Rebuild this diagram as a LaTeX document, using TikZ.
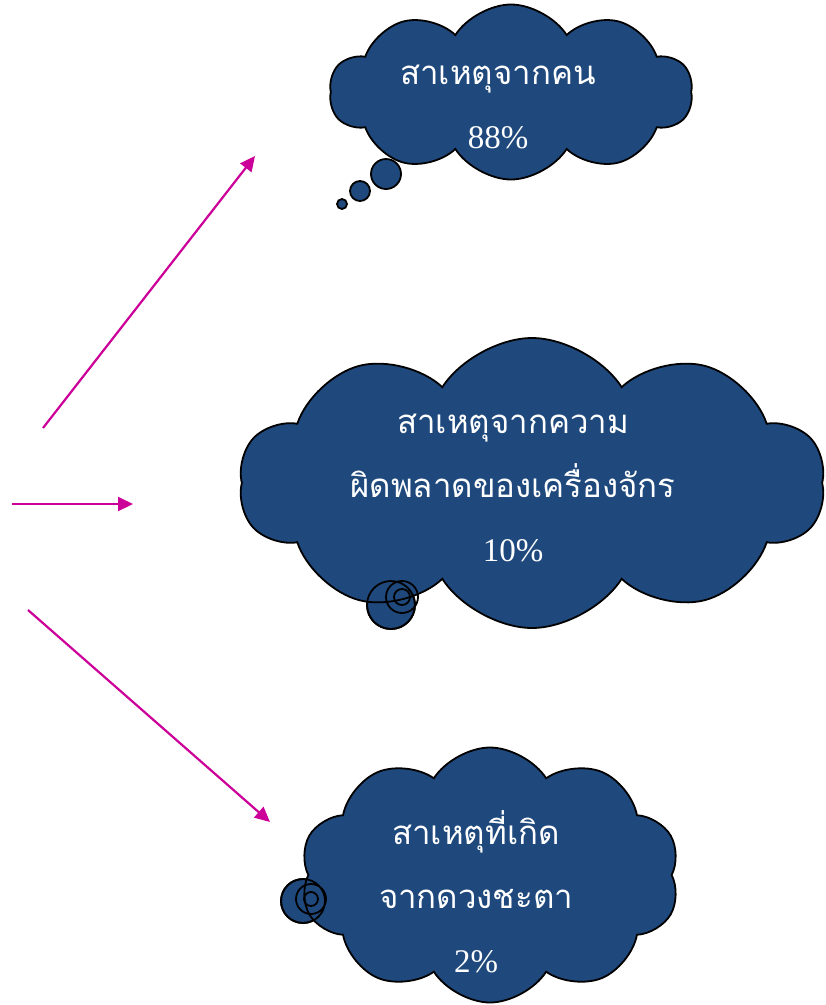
\documentclass[tikz,border=0pt]{standalone}
\usepackage{fontspec}
\setmainfont{Liberation Serif}
\newfontfamily\thaifont[Script=Thai]{Loma}
\usetikzlibrary{shapes.symbols,arrows.meta}
\definecolor{cloudblue}{HTML}{1F497D}
\definecolor{arrowpink}{HTML}{CC0099}
\begin{document}
\begin{tikzpicture}[x=1pt, y=-1pt, thick,
  bubble/.style = {cloud, cloud puffs=10, cloud puff arc=115, cloud ignores aspect, draw=black, fill=cloudblue, line width=1.8pt, inner sep=0pt},
  puff/.style = {draw=black, fill=cloudblue, line width=1.8pt},
  txt/.style = {text=white, align=center, font=\fontsize{33}{64}\selectfont},
  arr/.style = {-{Triangle[length=15pt,width=14pt]}, draw=arrowpink, line width=2.2pt}]
\useasboundingbox (0,0) rectangle (826,1005);
% tails behind the clouds
\draw[puff] (386,174) circle (15);
\draw[puff] (360,191) circle (10);
\draw[puff] (342,204) circle (5);
\draw[puff] (391,605) circle (24);
\draw[puff] (303,901) circle (22);
% clouds
\node[bubble, minimum width=363pt, minimum height=175pt] (human) at (511,92) {};
\node[bubble, minimum width=586pt, minimum height=290pt] (machine) at (532,483) {};
\node[bubble, minimum width=380pt, minimum height=255pt] (fate) at (490,875) {};
% tail outlines on top
\draw[line width=1.8pt] (391,605) circle (24) (402,597) circle (16) (402,597) circle (8);
\draw[line width=1.8pt] (303,901) circle (22) (311,899) circle (15) (311,899) circle (7);
\node[txt] (humantxt) at (498,107) {{\thaifont สาเหตุจากคน}\\88\%};
\node[txt] (machinetxt) at (513,488) {{\thaifont สาเหตุจากความ}\\{\thaifont ผิดพลาดของเครื่องจักร}\\10\%};
\node[txt] (fatetxt) at (476,892) {{\thaifont สาเหตุที่เกิด}\\{\thaifont จากดวงชะตา}\\2\%};
% arrows
\coordinate (s1) at (43,428);
\coordinate (e1) at (255,156);
\coordinate (s2) at (12,504);
\coordinate (e2) at (133,504);
\coordinate (s3) at (28,610);
\coordinate (e3) at (270,822);
\draw[arr] (s1) -- (e1);
\draw[arr] (s2) -- (e2);
\draw[arr] (s3) -- (e3);
\end{tikzpicture}
\end{document}
